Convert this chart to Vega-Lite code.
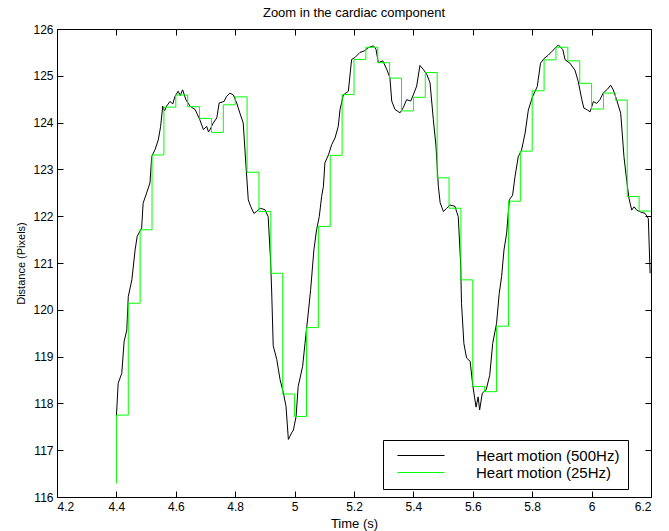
{
  "$schema": "https://vega.github.io/schema/vega-lite/v6.json",
  "width": 594,
  "height": 468,
  "autosize": {"type": "none"},
  "padding": {"left": 57, "top": 29, "right": 18, "bottom": 34},
  "background": "white",
  "title": {"text": "Zoom in the cardiac component", "font": "Liberation Sans", "fontSize": 13, "fontWeight": "normal", "color": "black", "offset": 3},
  "config": {
    "view": {"stroke": null},
    "axis": {"grid": false, "domainColor": "black", "domainWidth": 1, "tickColor": "black", "tickWidth": 1, "tickSize": -6, "labelColor": "black", "titleColor": "black", "labelFont": "Liberation Sans", "titleFont": "Liberation Sans", "titleFontWeight": "normal", "labelFontSize": 12, "titleFontSize": 13}
  },
  "datasets": {
    "hf": [
      {"t":4.400,"v":117.72},{"t":4.406,"v":118.43},{"t":4.418,"v":118.64},{"t":4.426,"v":119.32},{"t":4.435,"v":119.57},{"t":4.440,"v":120.28},{"t":4.452,"v":120.64},{"t":4.463,"v":121.28},{"t":4.470,"v":121.57},{"t":4.485,"v":121.75},{"t":4.490,"v":122.28},{"t":4.502,"v":122.50},{"t":4.513,"v":122.71},{"t":4.519,"v":123.28},{"t":4.530,"v":123.42},{"t":4.541,"v":123.63},{"t":4.549,"v":123.92},{"t":4.556,"v":124.35},{"t":4.562,"v":124.25},{"t":4.569,"v":124.35},{"t":4.580,"v":124.45},{"t":4.590,"v":124.40},{"t":4.597,"v":124.56},{"t":4.608,"v":124.67},{"t":4.615,"v":124.58},{"t":4.623,"v":124.70},{"t":4.634,"v":124.49},{"t":4.648,"v":124.35},{"t":4.665,"v":124.28},{"t":4.681,"v":124.06},{"t":4.693,"v":123.85},{"t":4.704,"v":123.92},{"t":4.710,"v":123.80},{"t":4.715,"v":123.85},{"t":4.726,"v":123.99},{"t":4.738,"v":124.10},{"t":4.746,"v":124.42},{"t":4.762,"v":124.45},{"t":4.771,"v":124.56},{"t":4.782,"v":124.63},{"t":4.794,"v":124.59},{"t":4.805,"v":124.42},{"t":4.816,"v":124.20},{"t":4.827,"v":123.99},{"t":4.835,"v":123.20},{"t":4.844,"v":122.35},{"t":4.852,"v":122.21},{"t":4.863,"v":122.06},{"t":4.872,"v":122.10},{"t":4.884,"v":122.17},{"t":4.900,"v":122.14},{"t":4.911,"v":121.99},{"t":4.919,"v":121.07},{"t":4.923,"v":120.36},{"t":4.928,"v":119.23},{"t":4.940,"v":118.94},{"t":4.951,"v":118.51},{"t":4.962,"v":118.23},{"t":4.971,"v":117.94},{"t":4.979,"v":117.23},{"t":4.990,"v":117.37},{"t":4.996,"v":117.43},{"t":5.005,"v":117.72},{"t":5.012,"v":118.36},{"t":5.027,"v":118.79},{"t":5.035,"v":119.28},{"t":5.046,"v":119.93},{"t":5.054,"v":120.43},{"t":5.065,"v":121.28},{"t":5.074,"v":121.71},{"t":5.083,"v":121.99},{"t":5.091,"v":122.42},{"t":5.097,"v":122.64},{"t":5.102,"v":123.14},{"t":5.114,"v":123.31},{"t":5.125,"v":123.53},{"t":5.136,"v":123.67},{"t":5.147,"v":123.92},{"t":5.153,"v":124.28},{"t":5.164,"v":124.59},{"t":5.181,"v":124.67},{"t":5.192,"v":125.35},{"t":5.203,"v":125.39},{"t":5.220,"v":125.50},{"t":5.234,"v":125.53},{"t":5.248,"v":125.60},{"t":5.265,"v":125.64},{"t":5.274,"v":125.57},{"t":5.282,"v":125.28},{"t":5.297,"v":125.32},{"t":5.310,"v":125.14},{"t":5.321,"v":124.96},{"t":5.327,"v":124.46},{"t":5.338,"v":124.28},{"t":5.355,"v":124.21},{"t":5.366,"v":124.32},{"t":5.377,"v":124.49},{"t":5.391,"v":124.46},{"t":5.402,"v":124.63},{"t":5.411,"v":124.78},{"t":5.422,"v":125.22},{"t":5.433,"v":125.14},{"t":5.445,"v":125.03},{"t":5.456,"v":124.85},{"t":5.467,"v":124.07},{"t":5.476,"v":123.50},{"t":5.484,"v":122.64},{"t":5.490,"v":122.29},{"t":5.501,"v":122.10},{"t":5.512,"v":122.17},{"t":5.523,"v":122.24},{"t":5.540,"v":122.21},{"t":5.551,"v":121.99},{"t":5.559,"v":121.00},{"t":5.562,"v":120.14},{"t":5.570,"v":119.28},{"t":5.579,"v":118.97},{"t":5.591,"v":118.90},{"t":5.600,"v":118.38},{"t":5.611,"v":117.92},{"t":5.618,"v":118.14},{"t":5.623,"v":117.86},{"t":5.632,"v":118.22},{"t":5.645,"v":118.29},{"t":5.657,"v":118.60},{"t":5.667,"v":119.28},{"t":5.680,"v":119.71},{"t":5.689,"v":120.35},{"t":5.697,"v":120.71},{"t":5.705,"v":121.28},{"t":5.714,"v":121.64},{"t":5.723,"v":122.35},{"t":5.734,"v":122.45},{"t":5.742,"v":122.84},{"t":5.753,"v":123.27},{"t":5.764,"v":123.41},{"t":5.776,"v":123.77},{"t":5.787,"v":124.27},{"t":5.801,"v":124.55},{"t":5.817,"v":124.77},{"t":5.828,"v":125.27},{"t":5.840,"v":125.37},{"t":5.854,"v":125.44},{"t":5.871,"v":125.55},{"t":5.888,"v":125.66},{"t":5.903,"v":125.56},{"t":5.911,"v":125.34},{"t":5.927,"v":125.27},{"t":5.944,"v":125.12},{"t":5.955,"v":124.88},{"t":5.967,"v":124.49},{"t":5.974,"v":124.31},{"t":5.986,"v":124.27},{"t":5.995,"v":124.23},{"t":6.006,"v":124.45},{"t":6.017,"v":124.41},{"t":6.028,"v":124.49},{"t":6.039,"v":124.63},{"t":6.053,"v":124.71},{"t":6.064,"v":124.80},{"t":6.073,"v":124.70},{"t":6.084,"v":124.49},{"t":6.098,"v":124.20},{"t":6.109,"v":123.27},{"t":6.118,"v":122.77},{"t":6.126,"v":122.38},{"t":6.135,"v":122.13},{"t":6.143,"v":122.20},{"t":6.152,"v":122.13},{"t":6.165,"v":122.09},{"t":6.180,"v":122.06},{"t":6.191,"v":121.95},{"t":6.197,"v":120.78}
    ],
    "lf": [
      {"t":4.40,"v":116.29},{"t":4.44,"v":117.75},{"t":4.48,"v":120.14},{"t":4.52,"v":121.71},{"t":4.56,"v":123.31},{"t":4.60,"v":124.33},{"t":4.64,"v":124.59},{"t":4.68,"v":124.34},{"t":4.72,"v":124.09},{"t":4.76,"v":123.79},{"t":4.80,"v":124.38},{"t":4.84,"v":124.55},{"t":4.88,"v":122.94},{"t":4.92,"v":122.10},{"t":4.96,"v":120.78},{"t":5.00,"v":118.20},{"t":5.04,"v":117.72},{"t":5.08,"v":119.62},{"t":5.12,"v":121.78},{"t":5.16,"v":123.30},{"t":5.20,"v":124.60},{"t":5.24,"v":125.35},{"t":5.28,"v":125.61},{"t":5.32,"v":125.28},{"t":5.36,"v":124.95},{"t":5.40,"v":124.25},{"t":5.44,"v":124.54},{"t":5.48,"v":125.07},{"t":5.52,"v":122.82},{"t":5.56,"v":122.17},{"t":5.60,"v":120.64},{"t":5.64,"v":118.36},{"t":5.68,"v":118.25},{"t":5.72,"v":119.65},{"t":5.76,"v":122.32},{"t":5.80,"v":123.39},{"t":5.84,"v":124.68},{"t":5.88,"v":125.34},{"t":5.92,"v":125.61},{"t":5.96,"v":125.32},{"t":6.00,"v":124.84},{"t":6.04,"v":124.29},{"t":6.08,"v":124.63},{"t":6.12,"v":124.48},{"t":6.16,"v":122.42},{"t":6.20,"v":122.11}
    ]
  },
  "layer": [
    {
      "data": {"name": "hf"},
      "mark": {"type": "line", "strokeWidth": 1, "clip": true},
      "encoding": {
        "x": {"field": "t", "type": "quantitative", "scale": {"domain": [4.2, 6.2], "nice": false, "zero": false},
          "axis": {"orient": "bottom", "values": [4.2,4.4,4.6,4.8,5,5.2,5.4,5.6,5.8,6,6.2], "format": "~g", "title": "Time (s)", "labelPadding": 10, "titlePadding": 5}},
        "y": {"field": "v", "type": "quantitative", "scale": {"domain": [116, 126], "nice": false, "zero": false},
          "axis": {"orient": "left", "values": [116,117,118,119,120,121,122,123,124,125,126], "format": "d", "title": "Distance (Pixels)", "titleFontSize": 11, "labelPadding": 10, "titlePadding": 6}},
        "color": {"datum": "Heart motion (500Hz)", "type": "nominal",
          "scale": {"domain": ["Heart motion (500Hz)", "Heart motion (25Hz)"], "range": ["#000000", "#00ff00"]},
          "legend": {"orient": "none", "legendX": 326, "legendY": 411, "title": null, "symbolType": "M -0.17 0 H 7.67", "symbolSize": 144, "symbolStrokeWidth": 1, "labelFont": "Liberation Sans", "labelFontSize": 15, "labelColor": "black", "labelOffset": 70, "padding": 8, "rowPadding": 1, "strokeColor": "black", "fillColor": "white", "labelLimit": 0}}
      }
    },
    {
      "data": {"name": "lf"},
      "mark": {"type": "line", "strokeWidth": 1, "interpolate": "step-before", "clip": true},
      "encoding": {
        "x": {"field": "t", "type": "quantitative",
          "axis": {"orient": "top", "values": [4.2,4.4,4.6,4.8,5,5.2,5.4,5.6,5.8,6,6.2], "labels": false, "title": null}},
        "y": {"field": "v", "type": "quantitative",
          "axis": {"orient": "right", "values": [116,117,118,119,120,121,122,123,124,125,126], "labels": false, "title": null}},
        "color": {"datum": "Heart motion (25Hz)", "type": "nominal"}
      }
    }
  ],
  "resolve": {"axis": {"x": "independent", "y": "independent"}}
}
